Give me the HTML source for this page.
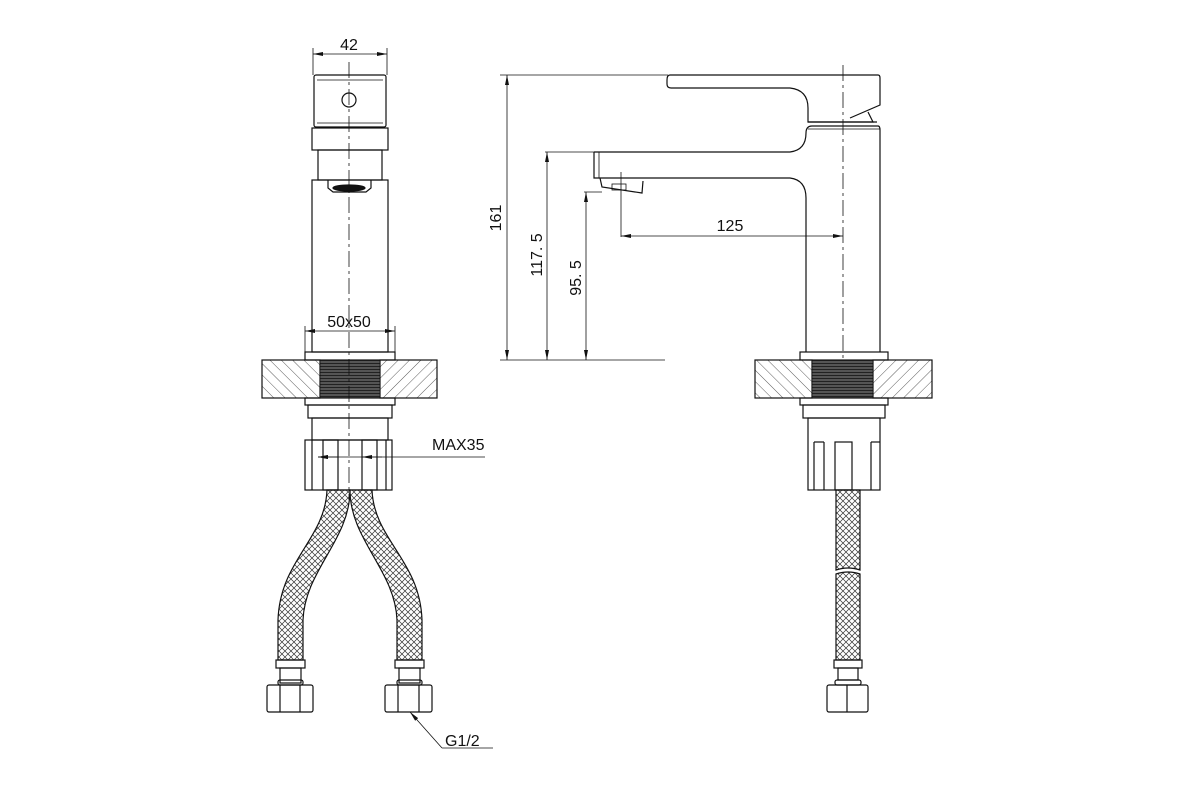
<!DOCTYPE html>
<html><head><meta charset="utf-8"><style>
html,body{margin:0;padding:0;background:#fff;}
svg{display:block;}
text{font-family:"Liberation Sans",sans-serif;fill:#111;}
</style></head><body>
<svg width="1200" height="800" viewBox="0 0 1200 800" xmlns="http://www.w3.org/2000/svg">
<defs>
<pattern id="hatch" width="8" height="8" patternUnits="userSpaceOnUse" patternTransform="rotate(45)">
<line x1="0" y1="0" x2="0" y2="8" stroke="#333" stroke-width="0.8"/>
</pattern>
<pattern id="hatch2" width="8" height="8" patternUnits="userSpaceOnUse" patternTransform="rotate(-45)">
<line x1="0" y1="0" x2="0" y2="8" stroke="#333" stroke-width="0.8"/>
</pattern>
<pattern id="thread" width="4" height="3" patternUnits="userSpaceOnUse">
<rect width="4" height="3" fill="#555"/>
<line x1="0" y1="0.5" x2="4" y2="0.5" stroke="#222" stroke-width="1"/>
</pattern>
<pattern id="mesh" width="6" height="6" patternUnits="userSpaceOnUse">
<path d="M0 0L6 6M6 0L0 6" stroke="#333" stroke-width="0.7"/>
</pattern>
<marker id="ar" viewBox="0 0 10 4" refX="10" refY="2" markerWidth="12" markerHeight="4" orient="auto-start-reverse" markerUnits="userSpaceOnUse">
<path d="M0 0L10 2L0 4z" fill="#111"/>
</marker>
</defs>
<g fill="none" stroke="#111" stroke-width="1.2">
<!-- FRONT VIEW -->
<line x1="313" y1="48" x2="313" y2="75" stroke-width="0.8"/>
<line x1="387" y1="48" x2="387" y2="75" stroke-width="0.8"/>
<line x1="313" y1="54" x2="387" y2="54" stroke-width="0.8" marker-start="url(#ar)" marker-end="url(#ar)"/>
<rect x="314" y="75" width="72" height="52" rx="2"/>
<line x1="317" y1="80" x2="383" y2="80" stroke-width="0.8"/>
<line x1="317" y1="123" x2="383" y2="123" stroke-width="0.8"/>
<circle cx="349" cy="100" r="7"/>
<rect x="312" y="128" width="76" height="22"/>
<rect x="318" y="150" width="64" height="30"/>
<rect x="312" y="180" width="76" height="172"/>
<path d="M328 180 V188 L333 192 H366 L371 188 V180"/>
<ellipse cx="349" cy="188" rx="16" ry="3" fill="#111"/>
<line x1="305" y1="326" x2="305" y2="352" stroke-width="0.8"/>
<line x1="395" y1="326" x2="395" y2="352" stroke-width="0.8"/>
<line x1="305" y1="331" x2="395" y2="331" stroke-width="0.8" marker-start="url(#ar)" marker-end="url(#ar)"/>
<rect x="305" y="352" width="90" height="8"/>
<rect x="262" y="360" width="58" height="38" fill="url(#hatch2)"/>
<rect x="380" y="360" width="57" height="38" fill="url(#hatch)"/>
<rect x="320" y="360" width="60" height="38" fill="url(#thread)" stroke-width="0.8"/>
<rect x="305" y="398" width="90" height="7"/>
<rect x="308" y="405" width="84" height="13"/>
<rect x="312" y="418" width="76" height="22"/>
<rect x="305" y="440" width="87" height="50"/>
<line x1="312" y1="440" x2="312" y2="490"/>
<line x1="386" y1="440" x2="386" y2="490"/>
<rect x="323" y="440" width="15" height="50"/>
<rect x="362" y="440" width="15" height="50"/>
<line x1="318" y1="457" x2="485" y2="457" stroke-width="0.8" marker-start="url(#ar)"/>
<line x1="338" y1="457" x2="318" y2="457" stroke-width="0.8" marker-end="url(#ar)"/>
<line x1="362" y1="457" x2="382" y2="457" stroke-width="0.8" marker-start="url(#ar)"/>
<!-- hoses -->
<path d="M327 490 C325 540 280 560 278 620 L278 660 L303 660 L303 620 C305 570 350 540 350 490 Z" fill="url(#mesh)"/>
<path d="M350 490 C350 540 395 570 397 620 L397 660 L422 660 L422 620 C420 560 374 540 372 490 Z" fill="url(#mesh)"/>
<rect x="276" y="660" width="29" height="8"/>
<rect x="280" y="668" width="21" height="15"/>
<rect x="278" y="680" width="25" height="5" rx="2"/>
<rect x="267" y="685" width="46" height="27" rx="2"/>
<line x1="280" y1="685" x2="280" y2="712"/><line x1="300" y1="685" x2="300" y2="712"/>
<rect x="395" y="660" width="29" height="8"/>
<rect x="399" y="668" width="21" height="15"/>
<rect x="397" y="680" width="25" height="5" rx="2"/>
<rect x="385" y="685" width="47" height="27" rx="2"/>
<line x1="398" y1="685" x2="398" y2="712"/><line x1="419" y1="685" x2="419" y2="712"/>
<path d="M442 748 L410 712" stroke-width="0.8" marker-end="url(#ar)"/>
<line x1="442" y1="748" x2="493" y2="748" stroke-width="0.8"/>
<line x1="349" y1="62" x2="349" y2="500" stroke-width="0.8" stroke-dasharray="16 4 3 4"/>

<!-- SIDE VIEW dimensions -->
<line x1="500" y1="75" x2="668" y2="75" stroke-width="0.8"/>
<line x1="500" y1="360" x2="665" y2="360" stroke-width="0.8"/>
<line x1="545" y1="152" x2="594" y2="152" stroke-width="0.8"/>
<line x1="584" y1="192" x2="602" y2="192" stroke-width="0.8"/>
<line x1="507" y1="75" x2="507" y2="360" stroke-width="0.8" marker-start="url(#ar)" marker-end="url(#ar)"/>
<line x1="547" y1="152" x2="547" y2="360" stroke-width="0.8" marker-start="url(#ar)" marker-end="url(#ar)"/>
<line x1="586" y1="192" x2="586" y2="360" stroke-width="0.8" marker-start="url(#ar)" marker-end="url(#ar)"/>
<line x1="621" y1="172" x2="621" y2="237" stroke-width="0.8"/>
<line x1="621" y1="236" x2="843" y2="236" stroke-width="0.8" marker-start="url(#ar)" marker-end="url(#ar)"/>
<!-- lever -->
<path d="M670 75 H878 Q880 75 880 78 V105 L850 118"/>
<path d="M670 75 Q667 75 667 80 V84 Q667 88 671 88 H790 Q808 90 808 108 V122 H873 L868 112"/>
<line x1="808" y1="122" x2="877" y2="122"/>
<!-- body and spout -->
<path d="M594 152 H790 Q806 150 806 133 Q806 126 812 126 H878 Q880 126 880 130 V352"/>
<line x1="808" y1="129" x2="880" y2="129" stroke-width="0.8"/>
<path d="M594 152 V178 H790 Q806 180 806 198 V352"/>
<line x1="599" y1="152" x2="599" y2="178" stroke-width="0.8"/>
<path d="M600 178 L602 187 L642 193 L643 181"/>
<rect x="612" y="184" width="14" height="6" stroke-width="0.8"/>
<line x1="843" y1="65" x2="843" y2="365" stroke-width="0.8" stroke-dasharray="16 4 3 4"/>
<!-- side base -->
<rect x="800" y="352" width="88" height="8"/>
<rect x="755" y="360" width="57" height="38" fill="url(#hatch2)"/>
<rect x="873" y="360" width="59" height="38" fill="url(#hatch)"/>
<rect x="812" y="360" width="61" height="38" fill="url(#thread)" stroke-width="0.8"/>
<rect x="800" y="398" width="88" height="7"/>
<rect x="803" y="405" width="82" height="13"/>
<rect x="808" y="418" width="72" height="72"/>
<line x1="814" y1="442" x2="814" y2="490"/><line x1="824" y1="442" x2="824" y2="490"/>
<line x1="814" y1="442" x2="824" y2="442"/>
<rect x="835" y="442" width="17" height="48"/>
<line x1="871" y1="442" x2="871" y2="490"/><line x1="871" y1="442" x2="880" y2="442"/>
<path d="M836 490 V570 Q848 566 860 570 V490 Z" fill="url(#mesh)"/>
<path d="M836 574 Q848 570 860 574 V660 H836 Z" fill="url(#mesh)"/>
<rect x="834" y="660" width="28" height="8"/>
<rect x="838" y="668" width="20" height="12"/>
<rect x="835" y="680" width="26" height="5" rx="2"/>
<rect x="827" y="685" width="41" height="27" rx="2"/>
<line x1="847" y1="685" x2="847" y2="712"/>
</g>
<text x="349" y="50" font-size="16" text-anchor="middle">42</text>
<text x="349" y="327" font-size="16" text-anchor="middle">50x50</text>
<text x="432" y="450" font-size="16">MAX35</text>
<text x="445" y="746" font-size="16">G1/2</text>
<text x="730" y="231" font-size="16" text-anchor="middle">125</text>
<text font-size="16" text-anchor="middle" transform="translate(501,218) rotate(-90)">161</text>
<text font-size="16" text-anchor="middle" transform="translate(542,255) rotate(-90)">117. 5</text>
<text font-size="16" text-anchor="middle" transform="translate(581,278) rotate(-90)">95. 5</text>
</svg>
</body></html>
